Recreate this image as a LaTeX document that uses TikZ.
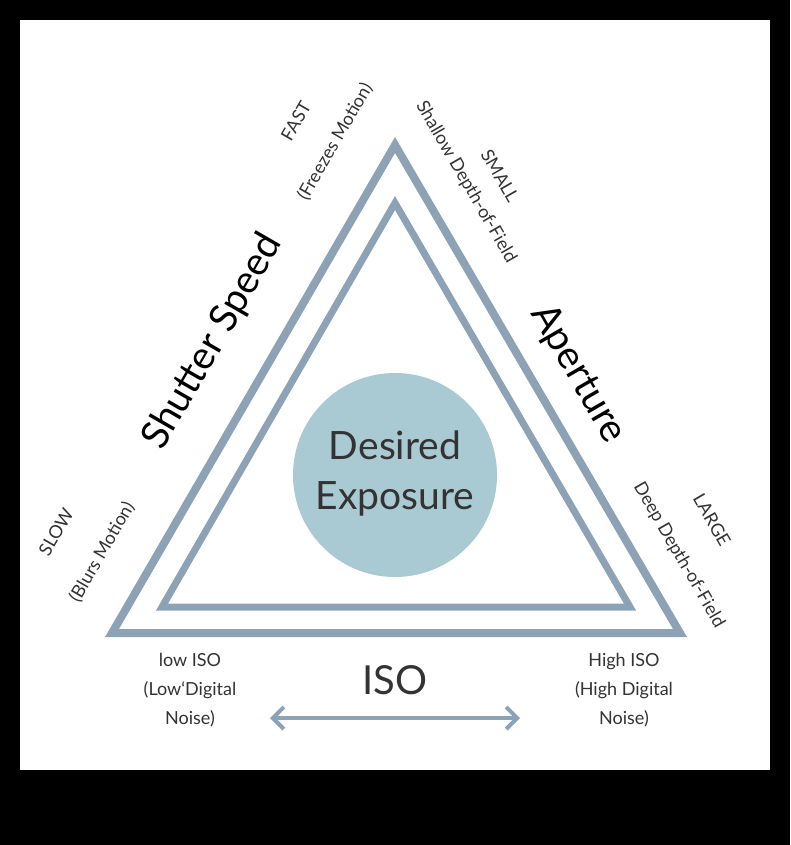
\documentclass[tikz,border=0pt]{standalone}
\usepackage{fontspec}
\setmainfont{Lato}
\usetikzlibrary{arrows.meta}
\definecolor{tri}{HTML}{8DA2B4}
\definecolor{circ}{HTML}{A9C9D3}
\definecolor{txt}{HTML}{333333}
\begin{document}
\begin{tikzpicture}[x=1pt,y=-1pt,
  side/.style={draw=tri,line width=8pt,line join=miter},
  big/.style={font=\fontsize{39}{40}\selectfont,text=black},
  small/.style={font=\fontsize{18}{20}\selectfont,text=txt,align=center}]
\fill[black] (0,0) rectangle (790,845);
\fill[white] (20,20) rectangle (770,770);
\useasboundingbox (0,0) rectangle (790,845);
\draw[side] (395,145) -- (680,633) -- (112,633) -- cycle;
\draw[side,line width=7pt] (395,203) -- (630,607) -- (162,607) -- cycle;
\node[circle,fill=circ,minimum size=204pt,inner sep=0] (c) at (395,475) {};
\node[font=\fontsize{39}{50}\selectfont,align=center,text=txt] (de) at (395,473) {Desired\\Exposure};
\node[big,rotate=60] (ss) at (213,342) {Shutter Speed};
\node[big,rotate=-60] (ap) at (578,374) {Aperture};
\node[font=\fontsize{40}{40}\selectfont,text=txt] (iso) at (395,680) {ISO};
\node[small,rotate=60] (fast) at (296,121) {FAST};
\node[small,rotate=60] (fm) at (335,142) {(Freezes Motion)};
\node[small,rotate=-60] (sd) at (466,182) {Shallow Depth-of-Field};
\node[small,rotate=-60] (sm) at (500,176) {SMALL};
\node[small,rotate=60] (slow) at (56,532) {SLOW};
\node[small,rotate=60] (bm) at (102,552) {(Blurs Motion)};
\node[small,rotate=-60] (lg) at (712,520) {LARGE};
\node[small,rotate=-60] (dd) at (679,555) {Deep Depth-of-Field};
\node[small,font=\fontsize{18}{29}\selectfont] (lo) at (190,690) {low ISO\\(Low\symbol{96}Digital\\Noise)};
\node[small,font=\fontsize{18}{29}\selectfont] (hi) at (624,690) {High ISO\\(High Digital\\Noise)};
\coordinate (a1) at (270,718);
\coordinate (a2) at (520,718);
\draw[tri,line width=4pt,{Straight Barb[length=11pt,width=22pt]}-{Straight Barb[length=11pt,width=22pt]}] (a1) -- (a2);
\end{tikzpicture}
\end{document}
